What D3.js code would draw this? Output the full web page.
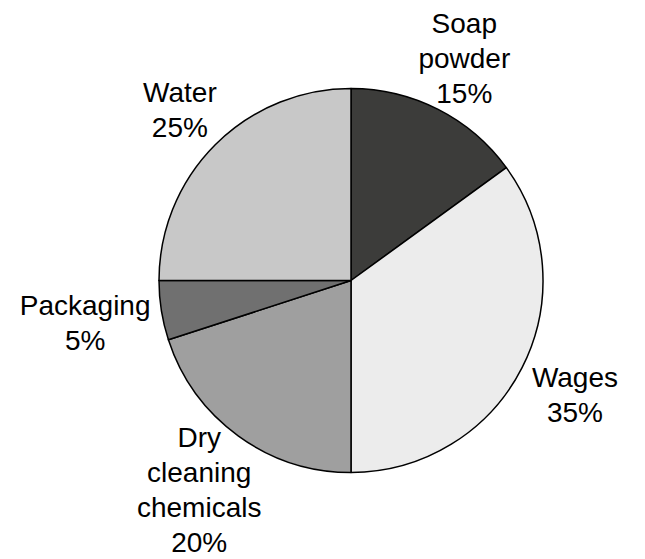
<!DOCTYPE html>
<html lang="en">
  <head>
    <meta charset="utf-8">
    <title>Pie chart</title>
    <script src="https://d3js.org/d3.v7.js"></script>
    <style>
      body { margin: 0; background: white; }
      text { font-family: "Liberation Sans", Arial, sans-serif; font-size: 28px; fill: black; }
    </style>
  </head>
  <body>
    <script>
      // data
      const categories = ["Soap powder", "Wages", "Dry cleaning chemicals", "Packaging", "Water"];
      const values = [15, 35, 20, 5, 25];
      const labelLines = [["Soap", "powder"], ["Wages"], ["Dry", "cleaning", "chemicals"], ["Packaging"], ["Water"]];
      const colors = ["#3c3c3a", "#ececec", "#9f9f9f", "#707070", "#c8c8c8"];

      const w = 645;
      const h = 559;
      const cx = 351, cy = 280.5;
      const radius = 192;
      const labelRadius = 203;
      const edgeMargin = 7;
      const fontSize = 28;
      const lineHeight = 35;
      const capHeight = 0.72 * fontSize;

      const rows = categories.map((c, i) => ({name: c, value: values[i], lines: labelLines[i].concat([values[i] + "%"])}));

      const pie = d3.pie().value(d => d.value).sort(null);
      const arc = d3.arc().innerRadius(0).outerRadius(radius);
      const color = d3.scaleOrdinal().domain(categories).range(colors);

      const svg = d3.select("body")
                    .append("svg")
                    .attr("width", w)
                    .attr("height", h);

      const g = svg.append("g")
                   .attr("transform", `translate(${cx}, ${cy})`);

      const arcs = pie(rows);

      g.selectAll("path")
       .data(arcs)
       .enter().append("path")
       .attr("d", arc)
       .attr("fill", d => color(d.data.name))
       .attr("stroke", "black")
       .attr("stroke-width", 1.5)
       .attr("stroke-linejoin", "round");

      // labels: text block sits just outside labelRadius along the slice's middle angle,
      // slid back toward the centre if it would run off the page
      const labels = g.selectAll("text.label")
                      .data(arcs)
                      .enter().append("text")
                      .attr("class", "label")
                      .attr("text-anchor", "middle");

      labels.each(function(d) {
        const t = d3.select(this);
        const n = d.data.lines.length;
        d.data.lines.forEach((line, i) => {
          t.append("tspan").attr("x", 0).attr("y", i * lineHeight).text(line);
        });
        const hw = this.getBBox().width / 2;
        const hh = ((n - 1) * lineHeight + capHeight) / 2;
        const a = (d.startAngle + d.endAngle) / 2;
        const ux = Math.sin(a), uy = -Math.cos(a);
        let dist = labelRadius + Math.min(hw / Math.abs(ux || 1e-6), hh / Math.abs(uy || 1e-6));
        if (uy > 0) dist = Math.min(dist, (h - edgeMargin - cy - hh) / uy);
        if (uy < 0) dist = Math.min(dist, (cy - edgeMargin - capHeight * 0.3 - hh) / -uy);
        const px = dist * ux;
        const py = dist * uy;
        const midY = ((n - 1) * lineHeight - capHeight) / 2;
        t.attr("transform", `translate(${px}, ${py - midY})`);
      });
    </script>
  </body>
</html>
